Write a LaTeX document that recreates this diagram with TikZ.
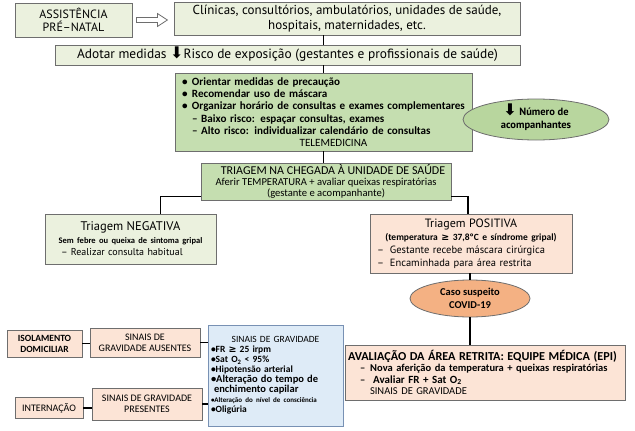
\documentclass[tikz,border=0pt]{standalone}
\usepackage{fontspec}
\setmainfont{PT Sans}
\newfontfamily\calfont{Carlito}
\newfontfamily\symfont{DejaVu Sans}
\usetikzlibrary{shapes.geometric,calc}

\definecolor{palegreen}{RGB}{235,241,222}
\definecolor{midgreen}{RGB}{197,222,176}
\definecolor{ovalgreen}{RGB}{184,214,158}
\definecolor{peach}{RGB}{252,228,214}
\definecolor{orangeoval}{RGB}{244,177,131}
\definecolor{paleblue}{RGB}{222,235,247}
\definecolor{boxgray}{RGB}{110,110,110}
\definecolor{bluegray}{RGB}{120,145,180}

\begin{document}
\begin{tikzpicture}[x=1pt, y=-1pt,
  box/.style={draw=boxgray, line width=0.8pt, inner sep=0pt, align=center},
  oval/.style={ellipse, draw=boxgray, line width=0.8pt, inner sep=0pt, align=center},
  link/.style={line width=1.4pt}]
\def\fs#1#2{\fontsize{#1}{#2}\selectfont}
\def\darr{\smash{\symfont\fontsize{16}{16}\selectfont ⬇}}
\def\gsym{{\symfont ≥}}

\useasboundingbox (0,0) rectangle (635,431);

\node[box, fill=palegreen, minimum width=117pt, minimum height=34pt, font=\fs{12}{13.5}] (asst) at (73.5,20) {ASSISTÊNCIA\\PRÉ–NATAL};
\node[box, fill=palegreen, minimum width=346pt, minimum height=33pt, font=\fs{13}{14.5}] (clin) at (347,18.5) {Clínicas, consultórios, ambulatórios, unidades de saúde,\\hospitais, maternidades, etc.};
\node[box, fill=palegreen, minimum width=465pt, minimum height=20pt, font=\fs{13.4}{14}] (adot) at (287.5,55) {Adotar medidas \darr{}Risco de exposição (gestantes e profissionais de saúde)};

\draw[boxgray, line width=0.8pt, fill=white] ($(asst.east)+(4,-2.5)$) -- ++(21,0) -- ++(0,-4) -- ++(10,6.5) -- ++(-10,6.5) -- ++(0,-4) -- ++(-21,0) -- cycle;

\node[box, fill=midgreen, minimum height=78pt, text width=283pt, inner xsep=7pt, align=left, font=\calfont\bfseries\fs{11.1}{12.3}] (med) at (323.5,112) {%
\makebox[10pt][l]{\textbullet}Orientar medidas de precaução\\
\makebox[10pt][l]{\textbullet}Recomendar uso de máscara\\
\makebox[10pt][l]{\textbullet}\makebox[0pt][l]{Organizar horário de consultas e exames complementares}\\
\hspace*{10pt}– Baixo risco: espaçar consultas, exames\\
\hspace*{10pt}– Alto risco: individualizar calendário de consultas\\
\makebox[\linewidth]{\mdseries\hspace{20pt}TELEMEDICINA}};
\node[oval, fill=ovalgreen, minimum width=146pt, minimum height=41pt, font=\bfseries\fs{10.5}{12.5}] (acomp) at (536,119.5) {\darr\ Número de\\acompanhantes};

\node[box, fill=midgreen, minimum width=250pt, minimum height=37pt, font=\calfont\fs{10.6}{10.8}] (triag) at (326,181.5) {{\fs{12}{11}\hspace{14pt}TRIAGEM NA CHEGADA À UNIDADE DE SAÚDE}\\Aferir TEMPERATURA + avaliar queixas respiratórias\\(gestante e acompanhante)};

\node[box, fill=palegreen, minimum height=50pt, text width=163pt, inner xsep=4pt, font=\fs{10}{12.5}] (neg) at (130.5,239) {{\fs{12.5}{13}Triagem NEGATIVA}\\{\calfont\bfseries\fs{8.5}{12}Sem febre ou queixa de sintoma gripal}\\\hspace*{12pt}– Realizar consulta habitual\hfill\null};
\node[box, fill=peach, minimum height=59pt, text width=194pt, inner xsep=4pt, font=\fs{10.5}{13}] (pos) at (471,243.5) {{\fs{12}{14}Triagem POSITIVA}\\{\calfont\bfseries\fs{9.5}{12}(temperatura \gsym{} 37,8ºC e síndrome gripal)}\\\hspace*{3pt}–\hspace{6pt}Gestante recebe máscara cirúrgica\hfill\null\\\hspace*{3pt}–\hspace{6pt}Encaminhada para área restrita\hfill\null};

\node[oval, fill=orangeoval, minimum width=120pt, minimum height=37pt, font=\calfont\bfseries\fs{10.5}{13}] (caso) at (470,298.5) {Caso suspeito\\COVID-19};

\node[box, fill=peach, minimum height=55pt, text width=274pt, inner xsep=3pt, align=left, font=\calfont\bfseries\fs{10.5}{11.5}] (aval) at (485,372.5) {{\fs{12.2}{13.5}\makebox[0pt][l]{AVALIAÇÃO DA ÁREA RETRITA: EQUIPE MÉDICA (EPI)}}\\\hspace*{12pt}–\hspace{5pt}Nova aferição da temperatura + queixas respiratórias\\\hspace*{12pt}–\hspace{8pt}{\fs{11}{11.5}Avaliar FR + Sat O\textsubscript{2}}\\\hspace*{22pt}{\mdseries SINAIS DE GRAVIDADE}};

\node[box, draw=bluegray, fill=paleblue, minimum height=101pt, text width=129pt, inner xsep=3pt, align=left, font=\calfont\bfseries\fs{9.5}{10}] (grav) at (275.5,375.5) {%
\makebox[\linewidth]{\mdseries SINAIS DE GRAVIDADE}\\
•FR \gsym{} 25 irpm\\
•Sat O\textsubscript{2} < 95\%\\
•Hipotensão arterial\\
{\fs{10.5}{10}•Alteração do tempo de}\\
{\fs{10.5}{10}\hspace*{3pt}enchimento capilar}\\
{\fs{7}{10}•Alteração do nível de consciência}\\
•Oligúria};

\node[box, fill=peach, minimum width=75pt, minimum height=27pt, font=\calfont\bfseries\fs{9.5}{11}] (isol) at (44.5,343.5) {ISOLAMENTO\\DOMICILIAR};
\node[box, fill=peach, minimum width=110pt, minimum height=29pt, font=\calfont\fs{10}{11}] (aus) at (145,342.5) {SINAIS DE\\GRAVIDADE AUSENTES};
\node[box, fill=peach, minimum width=68pt, minimum height=21pt, font=\calfont\fs{10}{11}] (intern) at (49,408) {INTERNAÇÃO};
\node[box, fill=peach, minimum width=110pt, minimum height=32pt, font=\calfont\fs{10}{11}] (pres) at (147,404) {SINAIS DE GRAVIDADE\\PRESENTES};

\draw[link] (clin.south -| med.north) -- (adot.north -| med.north);
\draw[link] (adot.south -| med.north) -- (med.north);
\draw[link] (med.south) -- (med.south |- triag.north);
\draw[link] ([yshift=4pt]triag.south west) -| ([xshift=30pt]neg.north);
\draw[link] ([yshift=4pt]triag.south east) -| ([xshift=-3pt]pos.north);
\draw[link] (caso.north |- pos.south) -- (caso.north);
\draw[link] (caso.south) -- (caso.south |- aval.north);
\draw[link] (isol.east) -- (isol.east -| aus.west);
\draw[link] (aus.east) -- (aus.east -| grav.west);
\draw[link] (intern.east) -- (intern.east -| pres.west);
\draw[link] (pres.east) -- (pres.east -| grav.west);

\end{tikzpicture}
\end{document}
